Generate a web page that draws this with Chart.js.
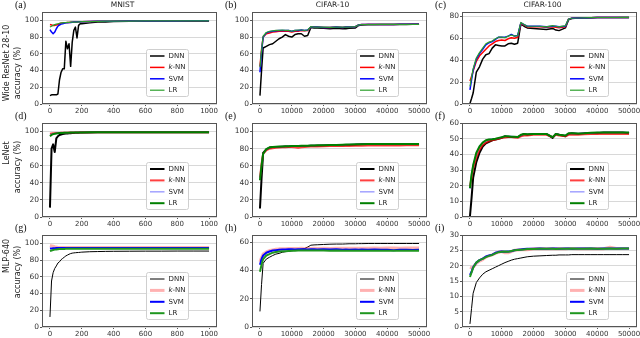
<!DOCTYPE html>
<html>
<head>
<meta charset="utf-8">
<script src="https://cdn.jsdelivr.net/npm/chart.js@4.4.1/dist/chart.umd.min.js"></script>
<style>
  html, body { margin: 0; padding: 0; background: #fff; }
  #fig { position: relative; width: 640px; height: 338px; overflow: hidden; background: #fff; }
  #fig canvas { position: absolute; }
</style>
</head>
<body>
<div id="fig"></div>
<script>
// x axis: training iterations
const mnistIters = [0, 10, 20, 30, 40, 50, 60, 70, 80, 90, 100, 110, 120, 130, 140, 150, 160, 170, 180, 190, 200, 250, 300, 350, 400, 500, 600, 700, 800, 900, 1000];
const cifarIters = [0, 500, 1000, 2000, 3000, 4000, 5000, 6000, 7000, 8000, 9000, 10000, 11000, 12000, 13000, 14000, 15000, 16000, 17000, 18000, 20000, 22000, 24000, 26000, 27000, 28000, 30000, 31000, 32000, 34000, 36000, 38000, 40000, 42000, 44000, 46000, 48000, 50000];

// tick values
const mnistTicks = [0, 200, 400, 600, 800, 1000];
const cifarTicks = [0, 10000, 20000, 30000, 40000, 50000];
const pctTicks = [0, 20, 40, 60, 80, 100];
const wrnCifar100Ticks = [0, 20, 40, 60, 80];
const lenetCifar100Ticks = [0, 10, 20, 30, 40, 50, 60];
const mlpCifar10Ticks = [0, 20, 40, 60];
const mlpCifar100Ticks = [0, 5, 10, 15, 20, 25, 30];

const methodLabels = ['DNN', 'k-NN', 'SVM', 'LR'];
const datasetTitles = ['MNIST', 'CIFAR-10', 'CIFAR-100'];
const modelNames = ['Wide ResNet 28-10', 'LeNet', 'MLP-640'];
const panelLetters = ['(a)', '(b)', '(c)', '(d)', '(e)', '(f)', '(g)', '(h)', '(i)'];

// (a) Wide ResNet / MNIST
const aDnn = [10, 11, 11, 11, 11, 12, 29, 38, 42, 42, 75, 66, 72, 45, 74, 88, 92, 79, 94, 96, 96, 97, 98, 98, 98.5, 99, 99, 99, 99, 99, 99];
const aKnn = [95, 94.5, 94, 94, 94.5, 95, 96, 96.5, 97, 97, 97.3, 97.5, 97.5, 97.7, 97.8, 98, 98, 98, 98.2, 98.3, 98.4, 98.6, 98.8, 99, 99, 99.2, 99.3, 99.3, 99.3, 99.4, 99.4];
const aSvm = [89, 86, 84, 86, 90, 93, 94.5, 95.5, 96, 96.5, 97, 97, 97.3, 97.5, 97.8, 98, 98, 98, 98.2, 98.3, 98.4, 98.6, 98.8, 99, 99, 99.2, 99.3, 99.3, 99.3, 99.4, 99.4];
const aLr = [92, 93, 94, 95, 95.5, 96, 96.5, 97, 97, 97.2, 97.4, 97.5, 97.6, 97.8, 98, 98, 98, 98, 98.2, 98.3, 98.4, 98.6, 98.8, 99, 99, 99.2, 99.3, 99.3, 99.3, 99.4, 99.4];

// (b) Wide ResNet / CIFAR-10
const bDnn = [10, 40, 67, 69, 71, 72, 75, 78, 80, 83, 81, 80, 83, 84, 84, 81, 82, 91.5, 91, 91, 90.5, 90, 90.5, 90, 90, 90.5, 91, 94, 94.5, 95, 95, 95, 95, 95.2, 95.2, 95.2, 95.3, 95.3];
const bKnn = [45, 65, 80, 84, 85, 86, 86.5, 87, 87, 87, 87, 86, 87, 87, 88, 87.5, 88, 92, 92, 92, 91.5, 91.5, 92, 91.5, 92, 92, 92.5, 94.5, 95, 95, 95, 95.2, 95.2, 95.2, 95.3, 95.3, 95.3, 95.3];
const bSvm = [38, 62, 80, 85, 86.5, 87, 87.5, 88, 88, 88, 88, 87, 88, 88, 88.5, 88, 88.5, 92, 92, 92, 91.5, 91.5, 92, 91.5, 92, 92, 92.5, 94.5, 95, 95, 95, 95.2, 95.2, 95.2, 95.3, 95.3, 95.3, 95.3];
const bLr = [44, 64, 81, 85.5, 87, 87.5, 88, 88, 88.5, 88, 88, 87, 88, 88.5, 88.5, 88, 88.5, 92.5, 92, 92, 92, 91.5, 92, 92, 92, 92, 92.5, 94.5, 95, 95, 95, 95.2, 95.2, 95.2, 95.3, 95.3, 95.3, 95.3];

// (c) Wide ResNet / CIFAR-100
const cDnn = [0.5, 5, 10, 29, 34, 41, 45, 46, 51, 54, 53.5, 53, 53, 55, 55.5, 54.5, 55.5, 73, 71, 69.5, 69, 68.5, 68, 69, 67.5, 67, 69.5, 77, 78, 78.5, 78.5, 78.8, 79, 79, 79, 79, 79, 79];
const cKnn = [21, 25, 30, 39, 44, 47, 50, 53, 55, 57, 58, 58.5, 58, 59.5, 60.5, 60, 61, 73.5, 72, 70.5, 70.5, 70.5, 70, 70.5, 70, 69.5, 70.5, 77.5, 78.2, 78.5, 78.6, 78.8, 79, 79, 79, 79, 79, 79];
const cSvm = [13, 22, 31, 41, 46, 50, 54, 56, 57, 59, 61, 61, 61, 62, 63.5, 62, 62.5, 74, 72.5, 71, 71, 71, 70.5, 71, 71, 70.5, 71, 77.5, 78.3, 78.5, 78.6, 78.8, 79, 79, 79, 79, 79, 79];
const cLr = [16, 24, 32, 42, 47, 51, 55, 56.5, 57.5, 59.5, 61, 61, 60.5, 62, 63, 62, 62.5, 74.5, 72.5, 71, 71, 71, 70.5, 71.5, 71, 70.5, 71.5, 77.5, 78.3, 78.5, 78.6, 78.8, 79, 79, 79, 79, 79.1, 79.1];

// (d) LeNet / MNIST
const dDnn = [11, 80, 85, 76, 92, 94.5, 96, 96.5, 97, 97.3, 97.6, 97.8, 98, 98.1, 98.2, 98.4, 98.5, 98.6, 98.7, 98.8, 98.9, 99, 99.1, 99.2, 99.2, 99.3, 99.3, 99.3, 99.3, 99.3, 99.3];
const dKnn = [97.5, 97.8, 98, 98.1, 98.2, 98.3, 98.4, 98.5, 98.6, 98.6, 98.7, 98.7, 98.8, 98.8, 98.8, 98.9, 98.9, 98.9, 99, 99, 99, 99.1, 99.1, 99.2, 99.2, 99.3, 99.3, 99.3, 99.3, 99.3, 99.3];
const dSvm = [96, 97, 97.5, 97.8, 98, 98.2, 98.3, 98.4, 98.5, 98.5, 98.6, 98.7, 98.7, 98.8, 98.8, 98.9, 98.9, 98.9, 99, 99, 99, 99.1, 99.1, 99.2, 99.2, 99.3, 99.3, 99.3, 99.3, 99.3, 99.3];
const dLr = [94.5, 96, 97, 97.5, 97.8, 98, 98.2, 98.3, 98.4, 98.5, 98.6, 98.7, 98.7, 98.8, 98.8, 98.9, 98.9, 98.9, 99, 99, 99, 99.1, 99.1, 99.2, 99.2, 99.3, 99.3, 99.3, 99.3, 99.3, 99.3];

// (e) LeNet / CIFAR-10
const eDnn = [10, 45, 75, 79, 81, 82, 82, 82, 82.3, 82.5, 82.5, 82.8, 83, 83, 83, 83, 83.2, 83.5, 83.5, 83.5, 83.8, 84, 84, 84, 84.2, 84.3, 84.5, 84.8, 85, 85, 85, 85, 85, 85, 85, 85, 85, 85];
const eKnn = [46, 62, 74, 78, 80, 80.5, 81, 81.2, 81.5, 81.5, 81.8, 82, 81.5, 81, 81.5, 82, 82.3, 82.5, 82.5, 82.6, 82.8, 83, 83, 83, 83, 83.2, 83.3, 83.5, 83.5, 83.6, 83.6, 83.7, 83.8, 83.8, 83.8, 83.9, 84, 84];
const eSvm = [44, 60, 74, 79, 81, 82, 82, 82.2, 82.4, 82.6, 82.8, 83, 83, 83.1, 83.2, 83.3, 83.4, 83.6, 83.7, 83.8, 84, 84.2, 84.3, 84.5, 84.6, 84.7, 85, 85, 85.1, 85.2, 85.2, 85.2, 85.3, 85.3, 85.3, 85.3, 85.3, 85.3];
const eLr = [43, 60, 74, 79.5, 81.5, 82, 82.2, 82.4, 82.5, 82.7, 82.9, 83, 83.1, 83.2, 83.3, 83.4, 83.5, 83.7, 83.8, 83.9, 84.1, 84.3, 84.4, 84.6, 84.7, 84.8, 85, 85.1, 85.2, 85.3, 85.3, 85.4, 85.4, 85.4, 85.5, 85.5, 85.5, 85.5];

// (f) LeNet / CIFAR-100
const fDnn = [0.5, 12, 25, 35, 41, 45, 47, 48, 49, 49.5, 50, 50.5, 51.5, 51, 51, 51, 51, 52, 53, 52.5, 53, 53, 53, 50.5, 53, 52.5, 51.5, 53, 53.5, 53, 53.5, 53.5, 53.5, 54, 54, 54, 54, 53.5];
const fKnn = [19.5, 25, 31, 38, 43, 46, 47.5, 48.5, 49, 49.5, 50, 50.5, 50.8, 51, 51, 50.8, 50.5, 51.5, 52, 52, 52.5, 52.5, 52.5, 51, 52.5, 52, 51.5, 52.5, 52.5, 52.5, 52.8, 53, 53, 53, 53, 53, 53, 53];
const fSvm = [18, 27, 33, 40, 45, 47.5, 48.5, 49.5, 50, 50, 50.3, 51, 51.5, 51.5, 51.5, 51.3, 51, 52, 53, 52.8, 53, 53.2, 53, 51, 53, 52.5, 52, 53.3, 53.5, 53.3, 53.5, 53.5, 54, 54, 54, 54, 54, 54];
const fLr = [18.5, 27, 33, 41, 45, 47.5, 49, 49.5, 49.7, 50, 50.5, 51, 51.5, 51.5, 51.3, 51.2, 51, 52.5, 53, 52.8, 53, 53, 53, 51, 53, 52.5, 52, 53.5, 53.5, 53.3, 53.5, 53.8, 54, 54, 54, 54, 54, 54];

// (g) MLP-640 / MNIST
const gDnn = [12, 55, 65, 70, 73, 76.5, 78, 80.5, 82, 83.5, 85, 86, 87, 87.8, 88.3, 88.6, 88.8, 89, 89.1, 89.3, 89.5, 90, 90.2, 90.4, 90.5, 90.6, 90.7, 90.7, 90.8, 90.8, 90.8];
const gKnn = [97.5, 97, 96.5, 96, 95.6, 95.3, 95.2, 95.1, 95, 95, 95, 95, 95, 95, 95, 95, 95, 95, 95, 95, 95, 95, 95, 95, 95, 95, 95, 95, 95, 95, 95];
const gSvm = [93.8, 94, 94.2, 94.3, 94.4, 94.5, 94.5, 94.5, 94.5, 94.5, 94.5, 94.5, 94.5, 94.5, 94.5, 94.5, 94.5, 94.5, 94.5, 94.5, 94.5, 94.5, 94.5, 94.5, 94.5, 94.5, 94.5, 94.5, 94.5, 94.5, 94.5];
const gLr = [90.8, 91.5, 92, 92.5, 92.8, 93, 93.2, 93.3, 93.4, 93.4, 93.5, 93.5, 93.5, 93.5, 93.5, 93.5, 93.5, 93.5, 93.5, 93.5, 93.5, 93.6, 93.6, 93.6, 93.6, 93.6, 93.6, 93.6, 93.6, 93.6, 93.6];

// (h) MLP-640 / CIFAR-10
const hDnn = [11, 30, 45, 48, 49.3, 50.5, 51.5, 52, 52.8, 53.2, 53.5, 53.8, 54.2, 54.6, 55, 55.4, 56.5, 57.8, 58, 58.1, 58.3, 58.5, 58.6, 58.6, 58.7, 58.8, 58.8, 58.9, 58.9, 59, 59, 59, 59, 59, 59, 59, 59, 59];
const hKnn = [46, 49, 51.5, 53, 54, 54.5, 55, 55.2, 55.3, 55.3, 55.5, 55.5, 55.4, 55.5, 55.6, 55.5, 55.6, 55.5, 55.6, 55.5, 55.6, 55.5, 55.6, 55.7, 55.6, 55.7, 55.6, 55.7, 55.7, 55.7, 55.8, 55.7, 55.8, 55.8, 55.7, 55.8, 55.9, 55.8];
const hSvm = [44, 48, 50.5, 52.5, 53.3, 54, 54.3, 54.5, 54.7, 54.8, 55, 55, 54.8, 55, 54.9, 55, 54.8, 55, 54.9, 54.8, 55, 54.7, 54.9, 54.6, 54.8, 54.6, 54.8, 54.6, 54.7, 54.5, 54.7, 54.5, 54.6, 54.3, 54.6, 54.5, 54.4, 54.5];
const hLr = [39, 44, 48, 50.5, 51.5, 52.5, 53, 53.3, 53.5, 53.6, 53.7, 53.8, 53.9, 54, 54, 54, 54, 54, 54, 54, 54, 53.9, 54, 53.9, 53.9, 53.9, 53.9, 53.8, 53.8, 53.8, 53.8, 53.8, 53.8, 53.8, 53.8, 53.8, 53.8, 53.8];

// (i) MLP-640 / CIFAR-100
const iDnn = [1, 6, 11, 14.5, 16, 17.2, 18, 18.5, 19, 19.5, 20, 20.5, 21, 21.4, 21.8, 22.1, 22.3, 22.5, 22.7, 22.9, 23.1, 23.2, 23.3, 23.4, 23.4, 23.5, 23.5, 23.5, 23.6, 23.6, 23.6, 23.6, 23.6, 23.6, 23.6, 23.6, 23.6, 23.6];
const iKnn = [19.5, 19.3, 19.5, 20.8, 21.5, 22, 22.8, 23.2, 23.5, 24, 24.4, 24.6, 24.2, 24.2, 24.6, 25, 25.1, 25.2, 25.3, 25.2, 25.5, 25.6, 25.5, 25.6, 25.5, 25.6, 25.5, 25.6, 25.6, 25.5, 25.6, 25.5, 25.6, 25.5, 26, 25.6, 25.6, 25.6];
const iSvm = [17, 18, 19.5, 21, 21.8, 22.3, 23, 23.3, 23.6, 24.2, 24.5, 24.6, 24.5, 24.6, 24.7, 25, 25.2, 25.3, 25.4, 25.5, 25.5, 25.6, 25.5, 25.6, 25.6, 25.5, 25.6, 25.6, 25.5, 25.6, 25.6, 25.6, 25.5, 25.6, 25.6, 25.6, 25.6, 25.6];
const iLr = [16.3, 17.8, 19.3, 21, 21.8, 22.2, 22.8, 23.2, 23.5, 24, 24.4, 24.5, 24.6, 24.5, 24.8, 25, 25.1, 25.2, 25.3, 25.4, 25.4, 25.5, 25.5, 25.5, 25.4, 25.5, 25.5, 25.5, 25.6, 25.5, 25.5, 25.6, 25.5, 25.5, 25.6, 25.5, 25.6, 25.6];

// plot area of each column / row, in page pixels
const colBox = [{ left: 42, right: 217 }, { left: 252, right: 427 }, { left: 462, right: 637 }];
const rowBox = [{ top: 12, bottom: 104 }, { top: 123, bottom: 217 }, { top: 235, bottom: 327 }];
const M_LEFT = 42, M_TOP = 16, M_RIGHT = 14, M_BOTTOM = 14;

// line style of each method, per row (matches the legends)
const rowStyles = [
  [{ c: '#000000', w: 1.5 }, { c: '#ff0000', w: 1.5 }, { c: '#0000ff', w: 1.5 }, { c: '#2ca02c', w: 1.2 }],
  [{ c: '#000000', w: 2 }, { c: 'rgba(255,0,0,0.75)', w: 2 }, { c: 'rgba(70,70,255,0.5)', w: 1.5 }, { c: '#008000', w: 2 }],
  [{ c: '#000000', w: 1 }, { c: 'rgba(255,60,60,0.4)', w: 3 }, { c: '#0000ff', w: 2 }, { c: '#1e961e', w: 2 }]
];
// centres of the two y-title lines, relative to plot top
const yTitleCenters = [[51, 61], [30, 44], [21, 37]];

const xAxisCfg = [
  { min: -50, max: 1050, ticks: mnistTicks },
  { min: -2500, max: 52500, ticks: cifarTicks },
  { min: -2500, max: 52500, ticks: cifarTicks }
];
const yAxisCfg = [
  [{ max: 110, ticks: pctTicks }, { max: 110, ticks: pctTicks }, { max: 84, ticks: wrnCifar100Ticks }],
  [{ max: 110, ticks: pctTicks }, { max: 110, ticks: pctTicks }, { max: 60, ticks: lenetCifar100Ticks }],
  [{ max: 110, ticks: pctTicks }, { max: 65, ticks: mlpCifar10Ticks }, { max: 30, ticks: mlpCifar100Ticks }]
];

const panelSeries = [
  [aDnn, aKnn, aSvm, aLr], [bDnn, bKnn, bSvm, bLr], [cDnn, cKnn, cSvm, cLr],
  [dDnn, dKnn, dSvm, dLr], [eDnn, eKnn, eSvm, eLr], [fDnn, fKnn, fSvm, fLr],
  [gDnn, gKnn, gSvm, gLr], [hDnn, hKnn, hSvm, hLr], [iDnn, iKnn, iSvm, iLr]
];

const SANS = "'DejaVu Sans', sans-serif";

function drawLegendLabel(ctx, text, x, y) {
  ctx.textBaseline = 'middle';
  ctx.textAlign = 'left';
  if (text.startsWith('k-')) {
    ctx.font = 'italic 7px ' + SANS;
    ctx.fillText('k', x, y);
    const w = ctx.measureText('k').width;
    ctx.font = '7px ' + SANS;
    ctx.fillText(text.slice(1), x + w, y);
  } else {
    ctx.font = '7px ' + SANS;
    ctx.fillText(text, x, y);
  }
}

const panelDecor = {
  id: 'panelDecor',
  afterDatasetsDraw(chart, args, opts) {
    const { ctx, chartArea: a } = chart;
    ctx.save();
    // frame
    ctx.strokeStyle = '#555';
    ctx.lineWidth = 1;
    ctx.strokeRect(a.left + 0.5, a.top + 0.5, a.right - a.left - 1, a.bottom - a.top - 1);

    // legend box
    const bw = 42, bh = 47;
    const bx = a.right - 29 - bw, by = a.bottom - 8 - bh;
    ctx.fillStyle = 'rgba(255,255,255,0.85)';
    ctx.strokeStyle = '#cfcfcf';
    ctx.beginPath();
    if (ctx.roundRect) ctx.roundRect(bx + 0.5, by + 0.5, bw, bh, 2);
    else ctx.rect(bx + 0.5, by + 0.5, bw, bh);
    ctx.fill();
    ctx.stroke();
    chart.data.datasets.forEach((ds, i) => {
      const y = by + 7 + i * 11.4;
      ctx.strokeStyle = ds.borderColor;
      ctx.lineWidth = ds.borderWidth;
      ctx.beginPath();
      ctx.moveTo(bx + 4, y);
      ctx.lineTo(bx + 18.5, y);
      ctx.stroke();
      ctx.fillStyle = '#222';
      drawLegendLabel(ctx, ds.label, bx + 22.5, y);
    });
    ctx.restore();
  },
  afterDraw(chart, args, opts) {
    const { ctx, chartArea: a } = chart;
    ctx.save();
    ctx.fillStyle = '#111';
    ctx.textAlign = 'left';
    ctx.textBaseline = 'alphabetic';
    ctx.font = "10px 'Liberation Serif', serif";
    ctx.fillText(opts.letter, a.left - 27, a.top - 4);

    if (opts.title) {
      ctx.textAlign = 'center';
      ctx.font = '7.5px ' + SANS;
      ctx.fillStyle = '#222';
      ctx.fillText(opts.title, (a.left + a.right) / 2 - 7, a.top - 5);
    }
    if (opts.yTitle) {
      ctx.font = '8px ' + SANS;
      ctx.fillStyle = '#222';
      ctx.textAlign = 'center';
      ctx.textBaseline = 'middle';
      const xs = [a.left - 35, a.left - 24];
      opts.yTitle.forEach((line, i) => {
        ctx.save();
        ctx.translate(xs[i], a.top + opts.yTitleCenters[i]);
        ctx.rotate(-Math.PI / 2);
        ctx.fillText(line, 0, 0);
        ctx.restore();
      });
    }
    ctx.restore();
  }
};

function addPanel(index) {
  const row = Math.floor(index / 3), col = index % 3;
  const cb = colBox[col], rb = rowBox[row];
  const w = cb.right - cb.left + M_LEFT + M_RIGHT;
  const h = rb.bottom - rb.top + M_TOP + M_BOTTOM;
  const canvas = document.createElement('canvas');
  canvas.width = w;
  canvas.height = h;
  canvas.style.width = w + 'px';
  canvas.style.height = h + 'px';
  canvas.style.left = (cb.left - M_LEFT) + 'px';
  canvas.style.top = (rb.top - M_TOP) + 'px';
  document.getElementById('fig').appendChild(canvas);

  const xs = col === 0 ? mnistIters : cifarIters;
  const styles = rowStyles[row];
  const xc = xAxisCfg[col], yc = yAxisCfg[row][col];

  new Chart(canvas, {
    type: 'line',
    data: {
      datasets: panelSeries[index].map((ys, i) => ({
        label: methodLabels[i],
        data: xs.map((x, j) => ({ x: x, y: ys[j] })),
        borderColor: styles[i].c,
        borderWidth: styles[i].w,
        borderJoinStyle: 'round',
        pointRadius: 0,
        tension: 0,
        fill: false,
        order: 3 - i
      }))
    },
    options: {
      responsive: false,
      animation: false,
      devicePixelRatio: 1,
      layout: { autoPadding: false, padding: { left: 0, top: M_TOP, right: M_RIGHT, bottom: 0 } },
      plugins: {
        legend: { display: false },
        tooltip: { enabled: false },
        panelDecor: {
          letter: panelLetters[index],
          title: row === 0 ? datasetTitles[col] : null,
          yTitle: col === 0 ? [modelNames[row], 'accuracy (%)'] : null,
          yTitleCenters: yTitleCenters[row]
        }
      },
      scales: {
        x: {
          type: 'linear',
          min: xc.min,
          max: xc.max,
          afterBuildTicks: s => { s.ticks = xc.ticks.map(v => ({ value: v })); },
          ticks: {
            autoSkip: false, maxRotation: 0,
            padding: 1, color: '#333', font: { family: SANS, size: 7 },
            callback: v => String(v)
          },
          grid: { drawOnChartArea: false, tickLength: 2, tickColor: '#555' },
          border: { display: false },
          afterFit: s => { s.height = M_BOTTOM; s.paddingLeft = 0; s.paddingRight = 0; }
        },
        y: {
          type: 'linear',
          min: 0,
          max: yc.max,
          afterBuildTicks: s => { s.ticks = yc.ticks.map(v => ({ value: v })); },
          ticks: {
            autoSkip: false,
            padding: 1, color: '#333', font: { family: SANS, size: 7.5 },
            callback: v => String(v)
          },
          grid: { color: '#d8d8d8', lineWidth: 1, tickLength: 2, tickColor: '#555' },
          border: { display: false },
          afterFit: s => { s.width = M_LEFT; s.paddingTop = 0; s.paddingBottom = 0; }
        }
      }
    },
    plugins: [panelDecor]
  });
}

for (let i = 0; i < 9; i++) addPanel(i);
</script>
</body>
</html>
